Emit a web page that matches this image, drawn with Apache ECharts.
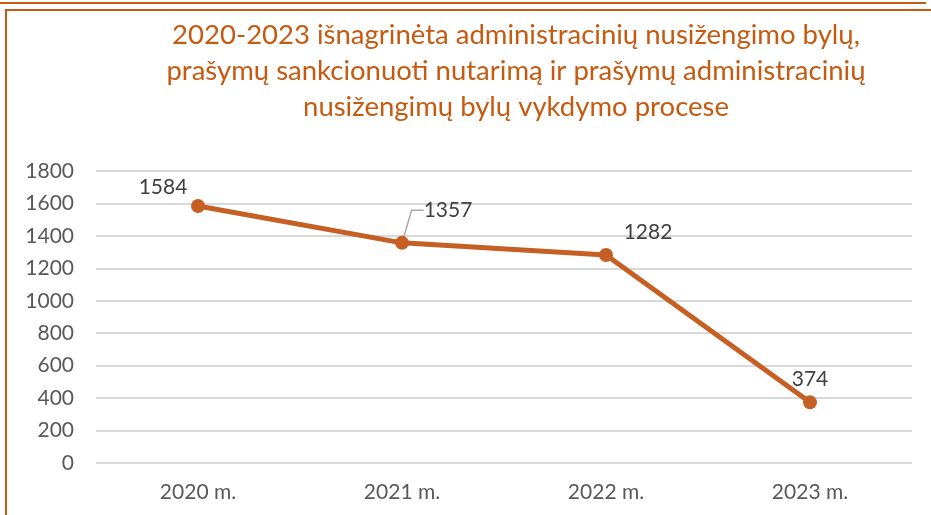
<!DOCTYPE html>
<html>
<head>
<meta charset="utf-8">
<script src="https://cdn.jsdelivr.net/npm/echarts@6/dist/echarts.min.js"></script>
<style>
  html, body { margin: 0; padding: 0; background: #fff; }
  #frameTop { position: absolute; left: 0; top: 2px; width: 926px; height: 0; border-top: 2px solid #C55A11; }
  #frame { position: absolute; left: 5px; top: 9px; width: 940px; height: 520px; border: 2px solid #C55A11; box-sizing: border-box; }
  #mainChart { position: absolute; left: 0; top: 0; width: 931px; height: 515px; }
</style>
</head>
<body>
<div id="frameTop"></div>
<div id="frame"></div>
<div id="mainChart"></div>
<script>
// Dados
const categories = ['2020 m.', '2021 m.', '2022 m.', '2023 m.'];
const values = [1584, 1357, 1282, 374];
const titleText = '2020-2023 išnagrinėta administracinių nusižengimo bylų,\nprašymų sankcionuoti nutarimą ir prašymų administracinių\nnusižengimų bylų vykdymo procese';

// deslocamento dos rótulos (px) e linha guia
const labelShift = [[-35, 5], [46, -9], [42, 1], [0, 0]];
const withLeader = [false, true, false, false];

const font = 'Lato, Carlito, sans-serif';

const chart = echarts.init(document.getElementById('mainChart'));
chart.setOption({
    backgroundColor: 'transparent',
    animation: false,
    title: {
        text: titleText,
        left: 511,
        textAlign: 'center',
        top: 12,
        textStyle: {
            color: '#C55A11',
            fontFamily: font,
            fontSize: 27.5,
            fontWeight: 'normal',
            lineHeight: 36
        }
    },
    grid: { left: 96, right: 19, top: 171, bottom: 52, containLabel: false },
    xAxis: {
        type: 'category',
        data: categories,
        axisLine: { show: false },
        axisTick: { show: false },
        axisLabel: { color: '#595959', fontSize: 21, margin: 19, fontFamily: font }
    },
    yAxis: {
        type: 'value',
        min: 0,
        max: 1800,
        interval: 200,
        axisLine: { show: false },
        axisTick: { show: false },
        splitLine: { lineStyle: { color: '#D9D9D9', width: 2 } },
        axisLabel: { color: '#595959', fontSize: 21, margin: 22, fontFamily: font, formatter: v => String(v) }
    },
    series: [{
        type: 'line',
        data: values.map((v, i) => ({ value: v, labelLine: { show: withLeader[i] } })),
        symbol: 'circle',
        symbolSize: 14,
        lineStyle: { color: '#C65F23', width: 5 },
        itemStyle: { color: '#C65F23' },
        label: {
            show: true,
            position: 'top',
            distance: 6,
            color: '#404040',
            fontSize: 21,
            fontFamily: font
        },
        labelLine: {
            show: false,
            length2: 12,
            lineStyle: { color: '#A6A6A6', width: 1.5 }
        },
        labelLayout: function (p) {
            const s = labelShift[p.dataIndex];
            return { dx: s[0], dy: s[1] };
        }
    }]
});
</script>
</body>
</html>
